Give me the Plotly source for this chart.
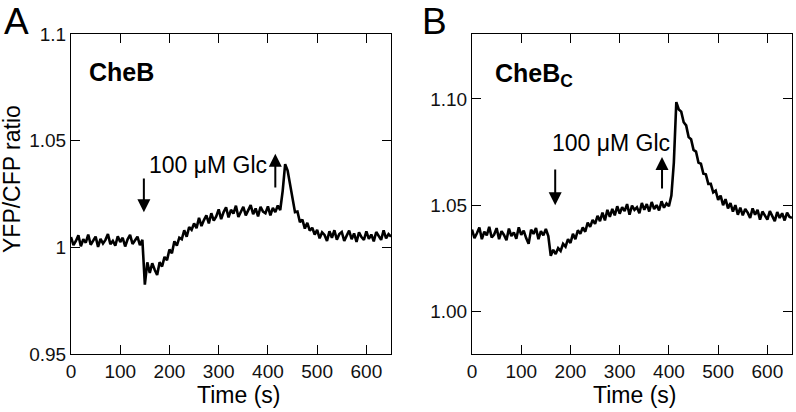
import plotly.graph_objects as go

# Sampling times (s)
time_s = list(range(0, 655, 5))

# Panel A: CheB, YFP/CFP ratio
ratio_cheb = [
    1.0048, 1.0010, 1.0030, 1.0056, 1.0005, 1.0038, 1.0022, 1.0060, 1.0012, 1.0028,
    1.0050, 1.0002, 1.0040, 1.0018, 1.0035, 1.0062, 1.0015, 1.0030, 1.0008, 1.0052,
    1.0025, 1.0045, 1.0004, 1.0038, 1.0058, 1.0016, 1.0032, 1.0050, 1.0010, 1.0035,
    0.9825, 0.9930, 0.9880, 0.9925, 0.9895, 0.9870, 0.9930, 0.9910, 0.9955, 0.9940,
    0.9990, 0.9972, 1.0028, 1.0008, 1.0045, 1.0038, 1.0080, 1.0050, 1.0095, 1.0082,
    1.0112, 1.0090, 1.0138, 1.0100, 1.0128, 1.0150, 1.0112, 1.0160, 1.0125, 1.0145,
    1.0178, 1.0132, 1.0165, 1.0188, 1.0140, 1.0176, 1.0158, 1.0195, 1.0142, 1.0170,
    1.0190, 1.0150, 1.0175, 1.0198, 1.0155, 1.0182, 1.0145, 1.0190, 1.0168, 1.0160,
    1.0192, 1.0150, 1.0185, 1.0165, 1.0196, 1.0175, 1.0265, 1.0390, 1.0360, 1.0290,
    1.0235, 1.0165, 1.0168, 1.0118, 1.0130, 1.0088, 1.0115, 1.0078, 1.0092, 1.0060,
    1.0082, 1.0042, 1.0070, 1.0058, 1.0030, 1.0075, 1.0045, 1.0080, 1.0036, 1.0062,
    1.0072, 1.0030, 1.0055, 1.0078, 1.0038, 1.0065, 1.0025, 1.0070, 1.0048, 1.0035,
    1.0075, 1.0040, 1.0060, 1.0028, 1.0072, 1.0050, 1.0035, 1.0080, 1.0042, 1.0062,
    1.0050,
]

# Panel B: CheB_C, YFP/CFP ratio
ratio_chebc = [
    1.0385, 1.0345, 1.0368, 1.0395, 1.0340, 1.0375, 1.0358, 1.0398, 1.0348, 1.0362,
    1.0392, 1.0340, 1.0378, 1.0360, 1.0335, 1.0390, 1.0355, 1.0372, 1.0342, 1.0396,
    1.0360, 1.0380, 1.0345, 1.0318, 1.0385, 1.0365, 1.0392, 1.0340, 1.0378, 1.0358,
    1.0388, 1.0355, 1.0262, 1.0290, 1.0270, 1.0298, 1.0285, 1.0318, 1.0305, 1.0340,
    1.0322, 1.0365, 1.0340, 1.0382, 1.0365, 1.0395, 1.0375, 1.0418, 1.0398, 1.0430,
    1.0412, 1.0450, 1.0425, 1.0465, 1.0428, 1.0478, 1.0445, 1.0482, 1.0452, 1.0495,
    1.0460, 1.0490, 1.0472, 1.0505, 1.0455, 1.0498, 1.0478, 1.0490, 1.0462, 1.0510,
    1.0478, 1.0505, 1.0470, 1.0515, 1.0482, 1.0500, 1.0475, 1.0518, 1.0488, 1.0508,
    1.0495, 1.0545, 1.0700, 1.0985, 1.0950, 1.0940, 1.0890, 1.0875, 1.0820, 1.0810,
    1.0760, 1.0752, 1.0700, 1.0695, 1.0648, 1.0645, 1.0600, 1.0600, 1.0560, 1.0568,
    1.0525, 1.0545, 1.0500, 1.0528, 1.0485, 1.0510, 1.0470, 1.0500, 1.0455, 1.0488,
    1.0452, 1.0482, 1.0465, 1.0440, 1.0485, 1.0455, 1.0478, 1.0432, 1.0470, 1.0448,
    1.0432, 1.0472, 1.0450, 1.0425, 1.0468, 1.0440, 1.0462, 1.0428, 1.0465, 1.0445,
    1.0440,
]

x_ticks = [0, 100, 200, 300, 400, 500, 600]
x_ticklabels = ["0", "100", "200", "300", "400", "500", "600"]
yA_ticks = [0.95, 1.0, 1.05, 1.1]
yA_ticklabels = ["0.95", "1", "1.05", "1.1"]
yB_ticks = [1.00, 1.05, 1.10]
yB_ticklabels = ["1.00", "1.05", "1.10"]

# Stimulus arrows: (time, tail, head)
arrowsA = [(148, 1.033, 1.0165), (415, 1.0274, 1.0439)]
arrowsB = [(169, 1.0675, 1.050), (386, 1.0571, 1.0727)]

W, H = 796, 412
FONT = "Liberation Sans, Arial, sans-serif"

def px(x):
    return x / W

def py(y):
    return 1 - y / H

fig = go.Figure()
fig.add_trace(go.Scatter(x=time_s, y=ratio_cheb, mode="lines",
                         line=dict(color="black", width=2.6), xaxis="x", yaxis="y",
                         showlegend=False, hoverinfo="skip"))
fig.add_trace(go.Scatter(x=time_s, y=ratio_chebc, mode="lines",
                         line=dict(color="black", width=2.6), xaxis="x2", yaxis="y2",
                         showlegend=False, hoverinfo="skip"))

ydom = [py(354), py(34)]
axis_common = dict(showline=True, linecolor="black", linewidth=1, mirror="ticks",
                   ticks="inside", ticklen=9, tickwidth=1, tickcolor="black",
                   showgrid=False, zeroline=False, automargin=False,
                   tickfont=dict(family=FONT, size=19, color="#111"))

fig.update_layout(
    width=W, height=H, margin=dict(l=0, r=0, t=0, b=0, autoexpand=False),
    paper_bgcolor="white", plot_bgcolor="white",
    xaxis=dict(domain=[px(71), px(391)], range=[0, 650], tickvals=x_ticks,
               ticktext=x_ticklabels, anchor="y", **axis_common),
    yaxis=dict(domain=ydom, range=[0.95, 1.1], tickvals=yA_ticks,
               ticktext=yA_ticklabels, anchor="x", **axis_common),
    xaxis2=dict(domain=[px(472), px(792)], range=[0, 650], tickvals=x_ticks,
                ticktext=x_ticklabels, anchor="y2", **axis_common),
    yaxis2=dict(domain=ydom, range=[0.98, 1.1305], tickvals=yB_ticks,
                ticktext=yB_ticklabels, anchor="x2", **axis_common),
)

ann = []
def txt(x, y, s, size, bold=False, xanchor="center", yanchor="middle", angle=0):
    ann.append(dict(x=px(x), y=py(y), xref="paper", yref="paper", text=s,
                    showarrow=False, xanchor=xanchor, yanchor=yanchor, textangle=angle,
                    font=dict(family=FONT, size=size, color="black",
                              weight="bold" if bold else "normal")))

txt(16, 22, "A", 37)
txt(435, 22, "B", 37)
txt(87, 72, "CheB", 25, bold=True, xanchor="left")
txt(493, 75, "CheB<sub>C</sub>", 25, bold=True, xanchor="left")
txt(147, 165, "100 μM Glc", 23, xanchor="left")
txt(550, 143, "100 μM Glc", 23, xanchor="left")
txt(238, 395, "Time (s)", 23)
txt(634, 395, "Time (s)", 23)
txt(12, 179, "YFP/CFP ratio", 23, angle=-90)

for (xr, yr, arrows) in [("x", "y", arrowsA), ("x2", "y2", arrowsB)]:
    for (t, tail, head) in arrows:
        ann.append(dict(x=t, y=head, ax=t, ay=tail, xref=xr, yref=yr,
                        axref=xr, ayref=yr, text="", showarrow=True,
                        arrowhead=2, arrowsize=1.3, arrowwidth=2,
                        arrowcolor="black", standoff=0, startstandoff=0))

fig.update_layout(annotations=ann)
fig.write_html("out.html", config={"displayModeBar": False},
               post_script="document.body.style.margin='0';document.body.style.overflow='hidden';")
